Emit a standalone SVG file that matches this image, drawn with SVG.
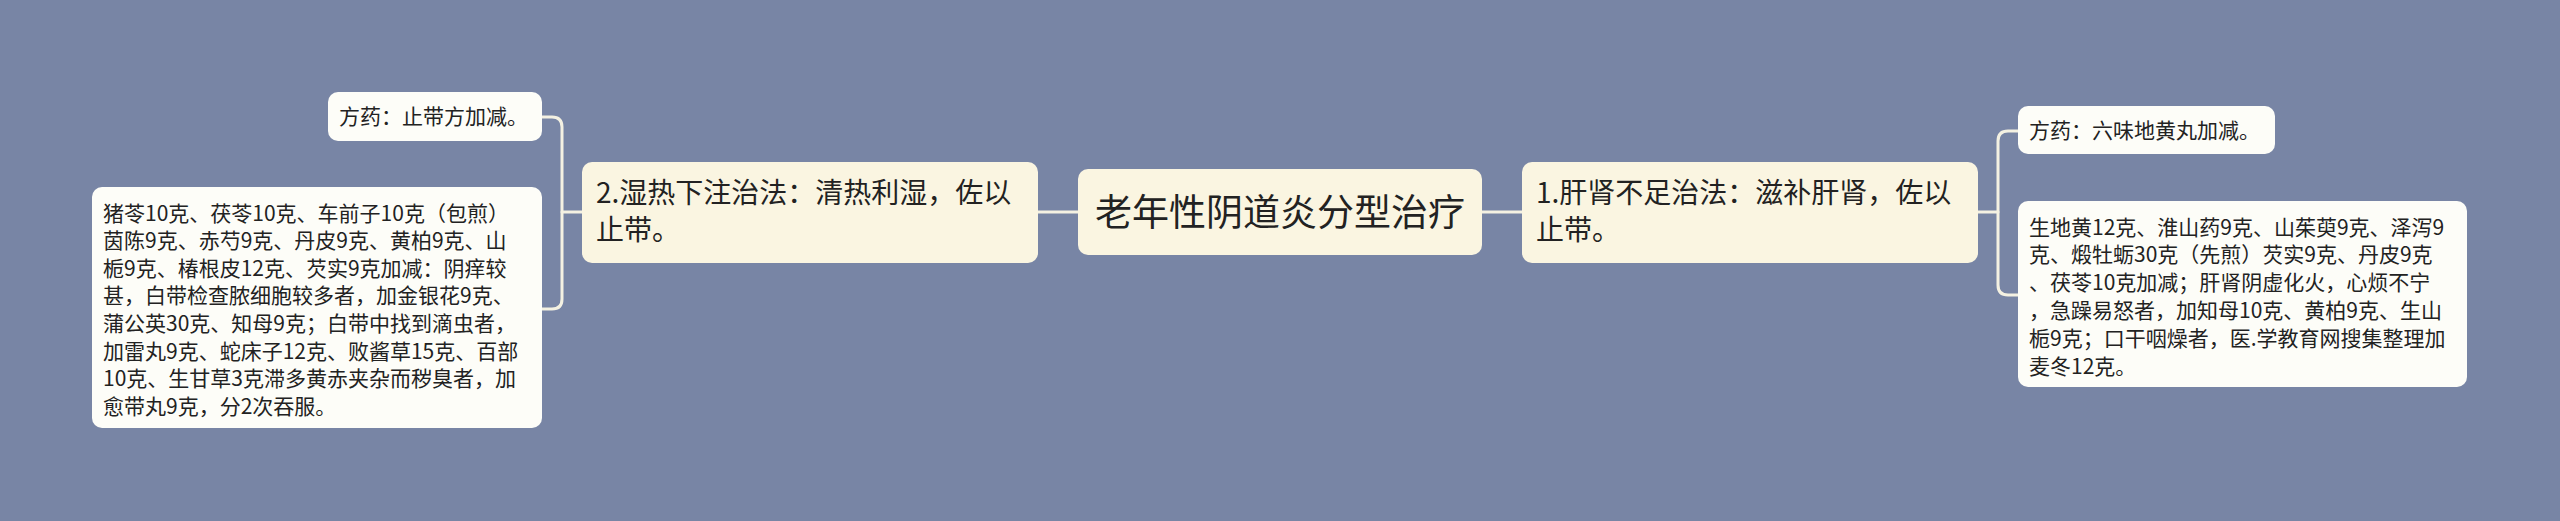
<svg xmlns="http://www.w3.org/2000/svg" width="2560" height="521" viewBox="0 0 2560 521">
<style>
.bg{fill:#7885a5}
.main{fill:#faf5e1}
.leaf{fill:#fdfdf8}
.ln{fill:none;stroke:#f4f1e2;stroke-width:3;stroke-linecap:round}
text{font-family:"Noto Sans CJK SC","Noto Sans",sans-serif;fill:#222222}
.t21{font-size:21px}
.t27{font-size:28px}
.t36{font-size:37px}
</style>
<rect class="bg" x="0" y="0" width="2560" height="521"/>
<g id="connectors">
<path class="ln" d="M1038,212 H1078"/>
<path class="ln" d="M1482,212 H1522"/>
<path class="ln" d="M582,212 H562"/>
<path class="ln" d="M542,117 H552 Q562,117 562,127 V299 Q562,309 552,309 H542"/>
<path class="ln" d="M1977,212 H1998"/>
<path class="ln" d="M2018,131 H2008 Q1998,131 1998,141 V285 Q1998,295 2008,295 H2018"/>
</g>
<g id="root">
<rect class="main" x="1078" y="169" width="404" height="86" rx="10"/>
<text class="t36" x="1280" y="226" text-anchor="middle">老年性阴道炎分型治疗</text>
</g>
<g id="branch2">
<rect class="main" x="582" y="162" width="456" height="101" rx="10"/>
<text class="t27" x="596" y="203">2.湿热下注治法：清热利湿，佐以</text>
<text class="t27" x="596" y="240">止带。</text>
</g>
<g id="branch1">
<rect class="main" x="1522" y="162" width="456" height="101" rx="10"/>
<text class="t27" x="1536" y="203">1.肝肾不足治法：滋补肝肾，佐以</text>
<text class="t27" x="1536" y="240">止带。</text>
</g>
<g id="leaf2a">
<rect class="leaf" x="328" y="92" width="214" height="49" rx="10"/>
<text class="t21" x="339" y="124">方药：止带方加减。</text>
</g>
<g id="leaf2b">
<rect class="leaf" x="92" y="187" width="450" height="241" rx="10"/>
<text class="t21" x="103" y="220.5">猪苓10克、茯苓10克、车前子10克（包煎）</text>
<text class="t21" x="103" y="248.1">茵陈9克、赤芍9克、丹皮9克、黄柏9克、山</text>
<text class="t21" x="103" y="275.7">栀9克、椿根皮12克、芡实9克加减：阴痒较</text>
<text class="t21" x="103" y="303.3">甚，白带检查脓细胞较多者，加金银花9克、</text>
<text class="t21" x="103" y="330.9">蒲公英30克、知母9克；白带中找到滴虫者，</text>
<text class="t21" x="103" y="358.5">加雷丸9克、蛇床子12克、败酱草15克、百部</text>
<text class="t21" x="103" y="386.1">10克、生甘草3克滞多黄赤夹杂而秽臭者，加</text>
<text class="t21" x="103" y="413.7">愈带丸9克，分2次吞服。</text>
</g>
<g id="leaf1a">
<rect class="leaf" x="2018" y="106" width="257" height="48" rx="10"/>
<text class="t21" x="2029" y="138">方药：六味地黄丸加减。</text>
</g>
<g id="leaf1b">
<rect class="leaf" x="2018" y="201" width="449" height="186" rx="10"/>
<text class="t21" x="2029" y="234.5">生地黄12克、淮山药9克、山茱萸9克、泽泻9</text>
<text class="t21" x="2029" y="262.3">克、煅牡蛎30克（先煎）芡实9克、丹皮9克</text>
<text class="t21" x="2029" y="290.1">、茯苓10克加减；肝肾阴虚化火，心烦不宁</text>
<text class="t21" x="2029" y="317.9">，急躁易怒者，加知母10克、黄柏9克、生山</text>
<text class="t21" x="2029" y="345.7">栀9克；口干咽燥者，医.学教育网搜集整理加</text>
<text class="t21" x="2029" y="373.5">麦冬12克。</text>
</g>
</svg>
